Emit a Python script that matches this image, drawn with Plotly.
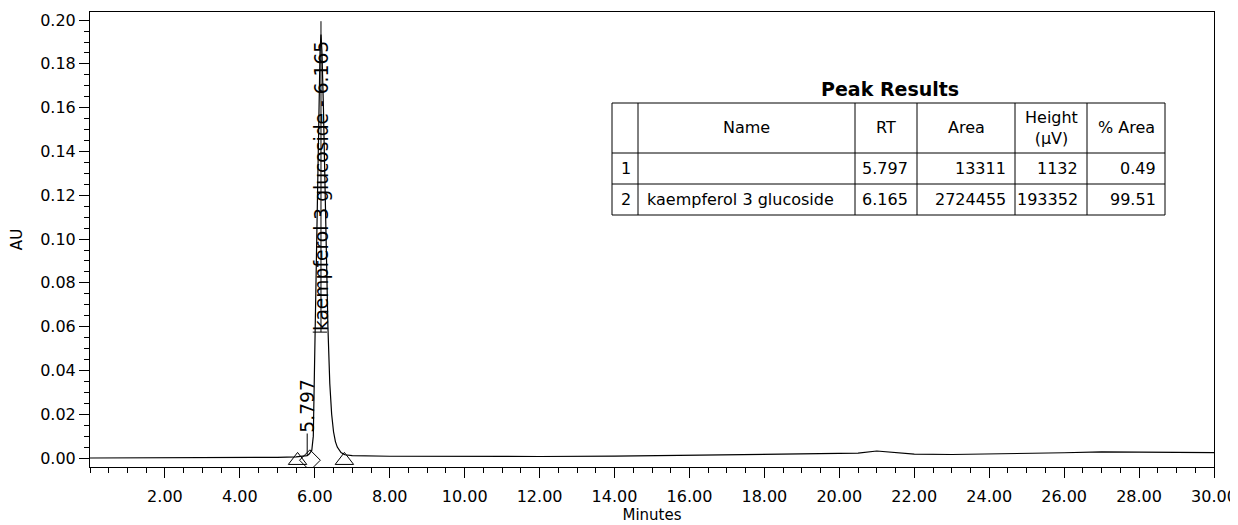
import plotly.graph_objects as go

# ---- chromatogram data (minutes, AU) ----
time_min = [0.0, 1.0, 2.0, 3.0, 4.0, 5.0, 5.5, 5.65, 5.75, 5.797, 5.85, 5.92, 5.96,
            6.00, 6.05, 6.10, 6.14, 6.165, 6.19, 6.23, 6.27, 6.31, 6.35, 6.40, 6.45,
            6.50, 6.55, 6.60, 6.70, 6.80, 7.0, 8.0, 10.0, 12.0, 14.0, 16.0, 18.0,
            20.0, 20.5, 21.0, 21.5, 22.0, 23.0, 24.0, 25.0, 26.0, 27.0, 28.0, 29.0, 30.0]
absorbance = [0.0000, 0.0000, 0.0001, 0.0001, 0.0002, 0.0003, 0.0005, 0.0008, 0.0010,
              0.0011, 0.0018, 0.0035, 0.0100, 0.0500, 0.1050, 0.1580, 0.1860, 0.1934,
              0.1860, 0.1600, 0.1250, 0.0880, 0.0600, 0.0340, 0.0200, 0.0120, 0.0075,
              0.0050, 0.0025, 0.0015, 0.0011, 0.0008, 0.0006, 0.0007, 0.0009, 0.0012,
              0.0015, 0.0018, 0.0022, 0.0032, 0.0024, 0.0018, 0.0016, 0.0018, 0.0021,
              0.0024, 0.0028, 0.0027, 0.0025, 0.0025]

# ---- peak integration marks (start / end of peaks) ----
tri_times = [5.54, 6.79]
tri_levels = [-0.0011, -0.0011]
dia_times = [5.87]
dia_levels = [-0.0010]

# ---- peak labels ----
peak_rt = [5.797, 6.165]
peak_top = [0.0011, 0.1995]
label_base = [0.0112, 0.0575]
label_text = ["5.797", "kaempferol 3 glucoside - 6.165"]

# ---- peak results table ----
table_title = "Peak Results"
col_headers = ["", "Name", "RT", "Area", "Height<br>(\u00b5V)", "% Area"]
tbl_index = ["1", "2"]
tbl_name = ["", "kaempferol 3 glucoside"]
tbl_rt = ["5.797", "6.165"]
tbl_area = ["13311", "2724455"]
tbl_height = ["1132", "193352"]
tbl_pct = ["0.49", "99.51"]

# ---- axis ticks ----
x_tickvals = [2, 4, 6, 8, 10, 12, 14, 16, 18, 20, 22, 24, 26, 28, 30]
x_ticktext = ["2.00", "4.00", "6.00", "8.00", "10.00", "12.00", "14.00", "16.00",
              "18.00", "20.00", "22.00", "24.00", "26.00", "28.00", "30.00"]
y_tickvals = [0.00, 0.02, 0.04, 0.06, 0.08, 0.10, 0.12, 0.14, 0.16, 0.18, 0.20]

FONT = "DejaVu Sans, Verdana, sans-serif"

# layout geometry (page pixels; the page body adds an 8px offset)
OFF = 8
W, H = 1238, 525
PX0, PX1, PY0, PY1 = 90, 1214, 12, 467


def px2x(px):
    return (px - PX0) / (PX1 - PX0)


def py2y(py):
    return (PY1 - py) / (PY1 - PY0)


fig = go.Figure()
fig.add_trace(go.Scatter(x=time_min, y=absorbance, mode="lines",
                         line=dict(color="black", width=1.2), showlegend=False,
                         hoverinfo="skip"))
fig.add_trace(go.Scatter(x=tri_times, y=tri_levels, mode="markers", showlegend=False,
                         hoverinfo="skip",
                         marker=dict(symbol="triangle-up-open", size=16,
                                     color="black", line=dict(width=1))))
fig.add_trace(go.Scatter(x=dia_times, y=dia_levels, mode="markers", showlegend=False,
                         hoverinfo="skip",
                         marker=dict(symbol="diamond-open", size=16,
                                     color="black", line=dict(width=1))))

shapes = []
annotations = []

# peak labels with their marker lines
for rt, top, base, txt in zip(peak_rt, peak_top, label_base, label_text):
    shapes.append(dict(type="line", xref="x", yref="y", x0=rt, x1=rt,
                       y0=min(top, base), y1=max(top, base),
                       line=dict(color="black", width=1)))
    annotations.append(dict(x=rt, y=base, xref="x", yref="y", text=txt,
                            textangle=-90, showarrow=False, xanchor="center",
                            yanchor="bottom", borderpad=0,
                            font=dict(family=FONT, size=18.7, color="black")))
shapes.append(dict(type="line", xref="x", yref="y", x0=peak_rt[1] - 0.22,
                   x1=peak_rt[1] + 0.16, y0=label_base[1], y1=label_base[1],
                   line=dict(color="black", width=1)))

# table drawn with lines + text
tbl_cols = [612, 638, 855, 917, 1015, 1087, 1165]
tbl_rows = [103, 153, 184, 215]
line_style = dict(color="black", width=1)
for cx in tbl_cols:
    shapes.append(dict(type="line", xref="paper", yref="paper",
                       x0=px2x(cx), x1=px2x(cx), y0=py2y(tbl_rows[0]), y1=py2y(tbl_rows[-1]),
                       line=line_style))
for ry in tbl_rows:
    shapes.append(dict(type="line", xref="paper", yref="paper",
                       x0=px2x(tbl_cols[0]), x1=px2x(tbl_cols[-1]), y0=py2y(ry), y1=py2y(ry),
                       line=line_style))

cell_font = dict(family=FONT, size=16, color="black")
hy = (tbl_rows[0] + tbl_rows[1]) / 2
for i, h in enumerate(col_headers):
    if h:
        annotations.append(dict(x=px2x((tbl_cols[i] + tbl_cols[i + 1]) / 2), y=py2y(hy),
                                xref="paper", yref="paper", text=h, showarrow=False,
                                xanchor="center", yanchor="middle", font=cell_font))

columns = [tbl_index, tbl_name, tbl_rt, tbl_area, tbl_height, tbl_pct]
aligns = ["left", "left", "right", "right", "right", "right"]
PAD = 7
for ci, (col, al) in enumerate(zip(columns, aligns)):
    for ri, val in enumerate(col):
        if not val:
            continue
        cy = (tbl_rows[ri + 1] + tbl_rows[ri + 2]) / 2
        xpx = tbl_cols[ci] + PAD if al == "left" else tbl_cols[ci + 1] - PAD
        annotations.append(dict(x=px2x(xpx), y=py2y(cy), xref="paper", yref="paper",
                                text=val, showarrow=False, xanchor=al,
                                yanchor="middle", font=cell_font))

annotations.append(dict(x=px2x(890), y=py2y(89), xref="paper", yref="paper",
                        text="<b>" + table_title + "</b>", showarrow=False,
                        xanchor="center", yanchor="middle",
                        font=dict(family=FONT, size=19, color="black")))

fig.update_layout(
    width=W - OFF, height=H - OFF,
    margin=dict(l=PX0 - OFF, r=W - PX1, t=PY0 - OFF, b=H - PY1, autoexpand=False),
    paper_bgcolor="white", plot_bgcolor="white",
    font=dict(family=FONT, color="black"),
    shapes=shapes, annotations=annotations, showlegend=False,
    xaxis=dict(range=[0, 30], tickvals=x_tickvals, ticktext=x_ticktext,
               ticks="outside", ticklen=10, tickwidth=1, tickcolor="black",
               ticklabelstandoff=5,
               minor=dict(dtick=0.5, tick0=0, ticks="outside", ticklen=5,
                          tickcolor="black", showgrid=False),
               showline=True, linecolor="black", linewidth=1, mirror=True,
               showgrid=False, zeroline=False, automargin=False,
               tickfont=dict(size=16),
               title=dict(text="Minutes", font=dict(size=15), standoff=2)),
    yaxis=dict(range=[-0.0041, 0.2037], tickvals=y_tickvals, tickformat=".2f",
               ticks="outside", ticklen=10, tickwidth=1, tickcolor="black",
               minor=dict(dtick=0.005, tick0=0, ticks="outside", ticklen=5,
                          tickcolor="black", showgrid=False),
               showline=True, linecolor="black", linewidth=1, mirror=True,
               showgrid=False, zeroline=False, automargin=False,
               tickfont=dict(size=16),
               title=dict(text="AU", font=dict(size=15), standoff=14)),
)

fig.write_html("out.html")
